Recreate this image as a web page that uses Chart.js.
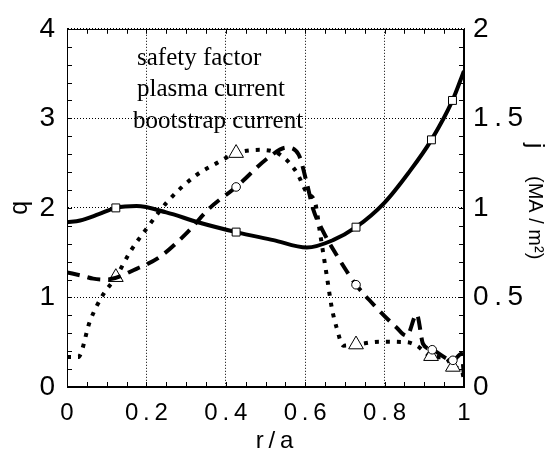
<!DOCTYPE html>
<html lang="en">
<head>
<meta charset="UTF-8">
<title>q and j profiles</title>
<script src="https://cdn.jsdelivr.net/npm/chart.js"></script>
<style>
  body { margin: 0; background: #fff; }
</style>
</head>
<body>
<canvas id="myChart" width="554" height="452"></canvas>
<script>
// safety factor q (left axis), solid line with squares
const qR   = [0, 0.033, 0.08, 0.123, 0.175, 0.25, 0.33, 0.426, 0.52, 0.604, 0.67, 0.728, 0.80, 0.86, 0.918, 0.971, 1.0];
const qVal = [1.84, 1.86, 1.93, 2.0, 2.02, 1.95, 1.84, 1.73, 1.64, 1.557, 1.64, 1.785, 2.06, 2.39, 2.76, 3.2, 3.53];
const qMarkR = [0.123, 0.426, 0.728, 0.918, 0.971];

// plasma current j (right axis), dashed line with circles
const pR   = [0, 0.04, 0.066, 0.10, 0.175, 0.234, 0.30, 0.36, 0.426, 0.511, 0.553, 0.583, 0.605, 0.620, 0.646, 0.679, 0.705, 0.728, 0.78, 0.83, 0.856, 0.881, 0.897, 0.92, 0.972, 0.994, 1.0];
const pJ   = [0.64, 0.62, 0.605, 0.60, 0.66, 0.727, 0.856, 1.0, 1.117, 1.287, 1.337, 1.30, 1.13, 0.993, 0.865, 0.737, 0.645, 0.571, 0.442, 0.332, 0.286, 0.406, 0.24, 0.208, 0.149, 0.186, 0.06];
const pMarkR = [0.426, 0.728, 0.92, 0.972];

// bootstrap current j (right axis), dotted line with triangles
const bR   = [0, 0.028, 0.058, 0.091, 0.123, 0.159, 0.2, 0.251, 0.322, 0.377, 0.426, 0.486, 0.537, 0.579, 0.604, 0.625, 0.637, 0.654, 0.667, 0.679, 0.696, 0.728, 0.788, 0.856, 0.881, 0.917, 0.956, 0.972, 0.994, 1.0];
const bJ   = [0.167, 0.167, 0.369, 0.516, 0.613, 0.755, 0.883, 1.03, 1.177, 1.25, 1.306, 1.324, 1.297, 1.196, 1.085, 1.03, 0.865, 0.626, 0.442, 0.332, 0.231, 0.237, 0.253, 0.25, 0.231, 0.172, 0.158, 0.112, 0.094, 0.04];
const bMarkR = [0.123, 0.426, 0.728, 0.917, 0.972];

const legendLabels = ['safety factor', 'plasma current', 'bootstrap current'];

const toPts = (xs, ys) => xs.map((x, i) => ({ x: x, y: ys[i] }));
const markAt = (list, size) => (c) => (c.raw && list.includes(c.raw.x)) ? size : 0;

// put thin spaces between characters, the tick labels are wide-tracked
const spaced = (s) => String(s).split('').join('\u2009');

const sans = 'Liberation Sans, Arial, sans-serif';

// inward ticks, frame, text legend and right title
const decor = {
    id: 'decor',
    afterDraw(chart) {
        const { ctx, chartArea: a, scales: { x, y, y1 } } = chart;
        ctx.save();
        ctx.strokeStyle = '#000';
        ctx.lineWidth = 1;
        ctx.beginPath();
        for (let v = 0; v <= 1.0001; v += 0.05) {
            const px = Math.round(x.getPixelForValue(v)) + 0.5;
            ctx.moveTo(px, a.bottom); ctx.lineTo(px, a.bottom - 5);
            ctx.moveTo(px, a.top); ctx.lineTo(px, a.top + 5);
        }
        for (let v = 0; v <= 4.0001; v += 0.2) {
            const py = Math.round(y.getPixelForValue(v)) + 0.5;
            ctx.moveTo(a.left, py); ctx.lineTo(a.left + 5, py);
        }
        for (let v = 0; v <= 2.0001; v += 0.1) {
            const py = Math.round(y1.getPixelForValue(v)) + 0.5;
            ctx.moveTo(a.right, py); ctx.lineTo(a.right - 5, py);
        }
        ctx.stroke();
        ctx.strokeRect(Math.round(a.left) + 0.5, Math.round(a.top) + 0.5,
            Math.round(a.right - a.left) - 1, Math.round(a.bottom - a.top) - 1);

        // legend as plain text inside the plot
        ctx.fillStyle = '#000';
        ctx.font = '25px "Liberation Serif", "Times New Roman", serif';
        ctx.textAlign = 'left';
        ctx.textBaseline = 'alphabetic';
        ctx.fillText(legendLabels[0], 137, 65);
        ctx.fillText(legendLabels[1], 137, 96);
        ctx.fillText(legendLabels[2], 133, 128);

        // right axis title, read top to bottom
        ctx.translate(535, 0);
        ctx.rotate(Math.PI / 2);
        ctx.textBaseline = 'middle';
        ctx.font = '24px ' + sans;
        ctx.fillText('j', 143, 0);
        ctx.font = '20px ' + sans;
        ctx.fillText('(MA / m\u00b2)', 176, 0);
        ctx.restore();
    }
};

const ctx = document.getElementById('myChart');

new Chart(ctx, {
    type: 'line',
    data: {
        datasets: [
            {
                label: legendLabels[0],
                data: toPts(qR, qVal),
                yAxisID: 'y',
                borderColor: '#000',
                borderWidth: 4,
                cubicInterpolationMode: 'monotone',
                pointStyle: 'rect',
                pointRadius: markAt(qMarkR, 5.6),
                pointBackgroundColor: '#fff',
                pointBorderColor: '#000',
                pointBorderWidth: 1,
            },
            {
                label: legendLabels[1],
                data: toPts(pR, pJ),
                yAxisID: 'y1',
                borderColor: '#000',
                borderWidth: 4,
                borderDash: [13, 8],
                cubicInterpolationMode: 'monotone',
                pointStyle: 'circle',
                pointRadius: markAt(pMarkR, 4.3),
                pointBackgroundColor: '#fff',
                pointBorderColor: '#000',
                pointBorderWidth: 1,
            },
            {
                label: legendLabels[2],
                data: toPts(bR, bJ),
                yAxisID: 'y1',
                borderColor: '#000',
                borderWidth: 4,
                borderDash: [4, 7],
                cubicInterpolationMode: 'monotone',
                pointStyle: 'triangle',
                pointRadius: markAt(bMarkR, 8.5),
                pointBackgroundColor: '#fff',
                pointBorderColor: '#000',
                pointBorderWidth: 1,
            }
        ]
    },
    options: {
        responsive: false,
        animation: false,
        layout: { padding: { top: 24, left: 0, right: 0, bottom: 0 } },
        plugins: { legend: { display: false }, tooltip: { enabled: false } },
        scales: {
            x: {
                type: 'linear',
                min: 0, max: 1,
                afterFit: (s) => { s.height = 65; },
                ticks: {
                    stepSize: 0.2,
                    padding: 12,
                    color: '#000',
                    font: { family: sans, size: 24 },
                    maxRotation: 0,
                    callback: (v) => (v === 0 || v === 1) ? String(v) : spaced(v.toFixed(1)),
                },
                grid: { color: '#000', lineWidth: 1, drawTicks: false },
                border: { display: true, color: '#000', dash: [1, 2] },
                title: {
                    display: true,
                    text: '  \u2009r\u2009/\u2009a',
                    color: '#000',
                    font: { family: sans, size: 24, lineHeight: 0.9 },
                    padding: { top: 0, bottom: 0 },
                },
            },
            y: {
                position: 'left',
                min: 0, max: 4,
                afterFit: (s) => { s.width = 67; },
                ticks: {
                    stepSize: 1,
                    padding: 12,
                    color: '#000',
                    font: { family: sans, size: 28 },
                },
                grid: { color: '#000', lineWidth: 1, drawTicks: false },
                border: { display: true, color: '#000', dash: [1, 2] },
                title: {
                    display: true,
                    text: 'q',
                    color: '#000',
                    font: { family: sans, size: 25 },
                    padding: { top: 5, bottom: 0 },
                },
            },
            y1: {
                position: 'right',
                min: 0, max: 2,
                afterFit: (s) => { s.width = 90; },
                ticks: {
                    stepSize: 0.5,
                    padding: 9,
                    color: '#000',
                    font: { family: sans, size: 28 },
                    callback: (v) => Number.isInteger(v) ? String(v) : spaced(v.toFixed(1)),
                },
                grid: { drawOnChartArea: false, drawTicks: false },
                border: { display: true, color: '#000' },
            }
        }
    },
    plugins: [decor]
});
</script>
</body>
</html>
